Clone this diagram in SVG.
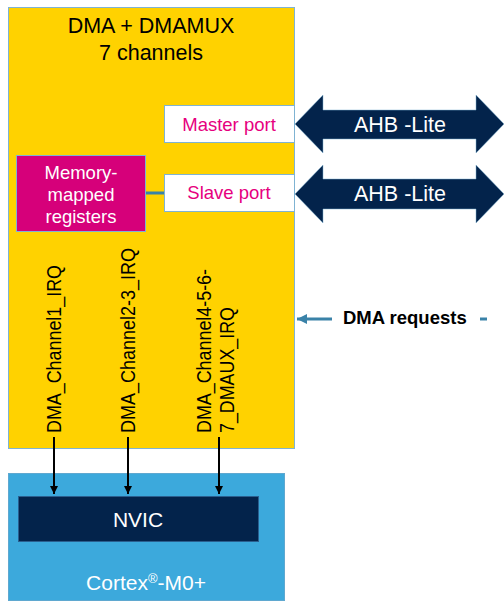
<svg xmlns="http://www.w3.org/2000/svg" width="504" height="601" viewBox="0 0 504 601">
<style>
text{font-family:"Liberation Sans",Arial,sans-serif;}
.t21{font-size:21.5px;}
.t20{font-size:21px;}
.t18{font-size:18.5px;}
.v{font-size:20px;}
.blk{fill:#000;}
.wht{fill:#fff;}
.mag{fill:#e6007e;}
.box{stroke:#7fb3d3;stroke-width:1;}
.irq{stroke:#000;stroke-width:2;fill:none;}
.teal{stroke:#3a82a8;stroke-width:3;fill:none;}
</style>
<defs>
<marker id="ah" markerWidth="10" markerHeight="10" refX="8" refY="5" orient="auto" markerUnits="userSpaceOnUse">
<path d="M0,1 L8,5 L0,9 Z" fill="#000"/>
</marker>
<marker id="ahT" markerWidth="12" markerHeight="12" refX="10" refY="6" orient="auto" markerUnits="userSpaceOnUse">
<path d="M0,1 L10,6 L0,11 Z" fill="#3a82a8"/>
</marker>
</defs>

<g id="dma">
<rect x="8.5" y="7.5" width="286" height="441" fill="#ffd200" class="box"/>
<text x="151" y="33" text-anchor="middle" class="t21 blk">DMA + DMAMUX</text>
<text x="151" y="60" text-anchor="middle" class="t21 blk">7 channels</text>
</g>

<g id="master-port">
<rect x="164.5" y="105.5" width="130" height="37" fill="#fff" class="box"/>
<text x="229" y="131" text-anchor="middle" class="t18 mag">Master port</text>
</g>

<g id="slave-port">
<rect x="164.5" y="174.5" width="130" height="37" fill="#fff" class="box"/>
<text x="229" y="199" text-anchor="middle" class="t18 mag">Slave port</text>
</g>

<g id="registers">
<rect x="16.5" y="155.5" width="129" height="76" fill="#d6007a" class="box"/>
<text x="81" y="179" text-anchor="middle" class="t18 wht">Memory-</text>
<text x="81" y="201" text-anchor="middle" class="t18 wht">mapped</text>
<text x="81" y="223" text-anchor="middle" class="t18 wht">registers</text>
</g>

<g id="ahb-master">
<polygon points="295,124 323,95 323,110 476,110 476,95 504,124 476,153 476,139 323,139 323,153" fill="#03234b" stroke="#7fb3d3" stroke-width="0.5"/>
<text x="400" y="132" text-anchor="middle" class="t21 wht">AHB -Lite</text>
</g>

<g id="ahb-slave">
<polygon points="295,194 323,165 323,179 476,179 476,165 504,194 476,223 476,209 323,209 323,223" fill="#03234b" stroke="#7fb3d3" stroke-width="0.5"/>
<text x="400" y="201" text-anchor="middle" class="t21 wht">AHB -Lite</text>
</g>

<g id="dma-requests">
<text x="343" y="324" class="t18 blk" font-weight="bold">DMA requests</text>
</g>

<g id="irq-labels">
<text transform="translate(61,433) rotate(-90)" class="v blk" textLength="168" lengthAdjust="spacingAndGlyphs">DMA_Channel1_IRQ</text>
<text transform="translate(135,433) rotate(-90)" class="v blk" textLength="185" lengthAdjust="spacingAndGlyphs">DMA_Channel2-3_IRQ</text>
<text transform="translate(211,433) rotate(-90)" class="v blk" textLength="164" lengthAdjust="spacingAndGlyphs">DMA_Channel4-5-6-</text>
<text transform="translate(234,433) rotate(-90)" class="v blk" textLength="126" lengthAdjust="spacingAndGlyphs">7_DMAUX_IRQ</text>
</g>

<g id="cortex">
<rect x="8.5" y="473.5" width="276" height="127" fill="#3ca9dc" stroke="#5fa8d0" stroke-width="1"/>
<text x="146" y="590" text-anchor="middle" class="t20 wht">Cortex<tspan font-size="13" baseline-shift="super">®</tspan>-M0+</text>
</g>

<g id="nvic">
<rect x="18.5" y="496.5" width="240" height="45" fill="#03234b" stroke="#2a5f8f" stroke-width="1"/>
<text x="138" y="527" text-anchor="middle" class="t20 wht">NVIC</text>
</g>

<g id="connectors">
<line x1="146" y1="193" x2="164" y2="193" class="teal"/>
<line x1="332" y1="319" x2="297" y2="319" class="teal" marker-end="url(#ahT)"/>
<line x1="480" y1="319" x2="487" y2="319" class="teal"/>
<line x1="54" y1="437" x2="54" y2="494" class="irq" marker-end="url(#ah)"/>
<line x1="128" y1="437" x2="128" y2="494" class="irq" marker-end="url(#ah)"/>
<line x1="219" y1="437" x2="219" y2="494" class="irq" marker-end="url(#ah)"/>
</g>
</svg>
